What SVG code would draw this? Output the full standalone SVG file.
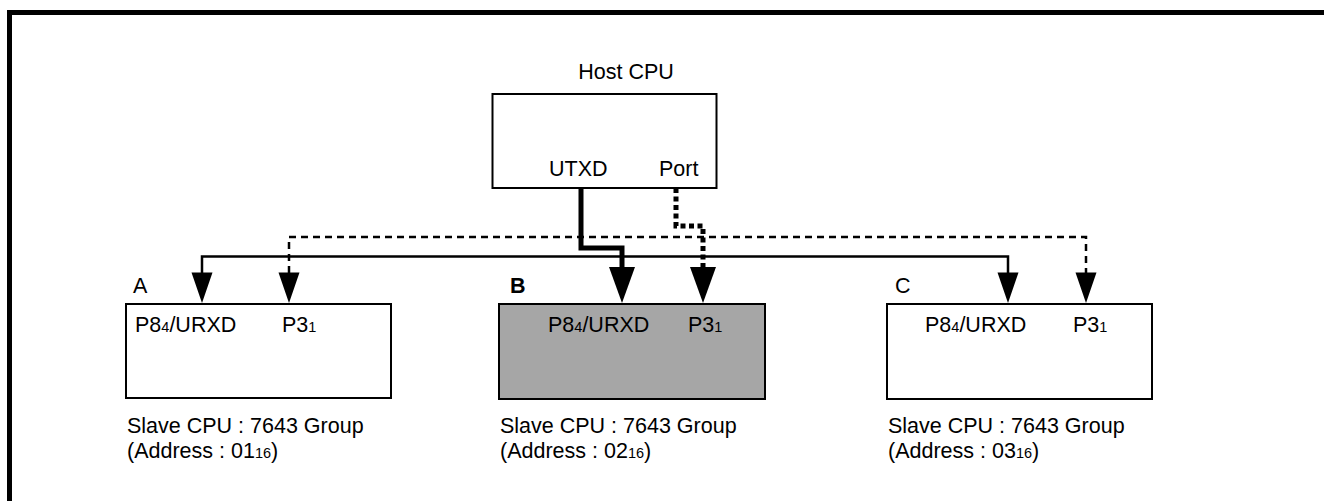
<svg xmlns="http://www.w3.org/2000/svg" width="1324" height="501" viewBox="0 0 1324 501">
<style>
text{font-family:"Liberation Sans",Arial,sans-serif;font-size:21.5px;fill:#000}
.sub{font-size:14.5px}
.box{fill:#fff;stroke:#000;stroke-width:2}
.thin{fill:none;stroke:#000;stroke-width:2.5}
.thindash{fill:none;stroke:#000;stroke-width:2.5;stroke-dasharray:7 5}
.thick{fill:none;stroke:#000;stroke-width:5}
.thickdash{fill:none;stroke:#000;stroke-width:5;stroke-dasharray:5 3.5}
.ah{fill:#000}
</style>
<rect x="0" y="0" width="1324" height="501" fill="#fff"/>
<rect x="9.5" y="12.5" width="1400" height="600" fill="none" stroke="#000" stroke-width="5"/>

<g id="host">
<text x="626" y="79" text-anchor="middle">Host CPU</text>
<rect class="box" x="492.5" y="94" width="224" height="94"/>
<text x="549" y="176">UTXD</text>
<text x="659" y="176">Port</text>
</g>

<g id="slaveA">
<text x="133" y="293">A</text>
<rect class="box" x="126" y="304" width="265" height="94"/>
<text x="135" y="332">P8<tspan class="sub">4</tspan>/URXD</text>
<text x="282" y="332">P3<tspan class="sub">1</tspan></text>
<text x="127" y="433">Slave CPU : 7643 Group</text>
<text x="127" y="458">(Address : 01<tspan class="sub">16</tspan>)</text>
</g>

<g id="slaveB">
<text x="510" y="293" font-weight="bold">B</text>
<rect x="499" y="304" width="266" height="95" fill="#a6a6a6" stroke="#000" stroke-width="2"/>
<text x="548" y="332">P8<tspan class="sub">4</tspan>/URXD</text>
<text x="688" y="332">P3<tspan class="sub">1</tspan></text>
<text x="500" y="433">Slave CPU : 7643 Group</text>
<text x="500" y="458">(Address : 02<tspan class="sub">16</tspan>)</text>
</g>

<g id="slaveC">
<text x="895" y="293">C</text>
<rect class="box" x="887" y="304" width="265" height="95"/>
<text x="925" y="332">P8<tspan class="sub">4</tspan>/URXD</text>
<text x="1073" y="332">P3<tspan class="sub">1</tspan></text>
<text x="888" y="433">Slave CPU : 7643 Group</text>
<text x="888" y="458">(Address : 03<tspan class="sub">16</tspan>)</text>
</g>

<g id="connectors">
<path class="thindash" d="M289,273 V237 H1086 V273"/>
<path class="thin" d="M202,273 V256.5 H1008 V273"/>
<path class="thick" d="M581,188 V248 H622 V268"/>
<path class="thickdash" d="M676,188 V226 H703 V268"/>
<polygon class="ah" points="191.5,272.5 212.5,272.5 202,303"/>
<polygon class="ah" points="278.5,272.5 299.5,272.5 289,303"/>
<polygon class="ah" points="997.5,272.5 1018.5,272.5 1008,303"/>
<polygon class="ah" points="1075.5,272.5 1096.5,272.5 1086,303"/>
<polygon class="ah" points="609,267 635,267 622,303"/>
<polygon class="ah" points="690,267 716,267 703,303"/>
</g>
</svg>
